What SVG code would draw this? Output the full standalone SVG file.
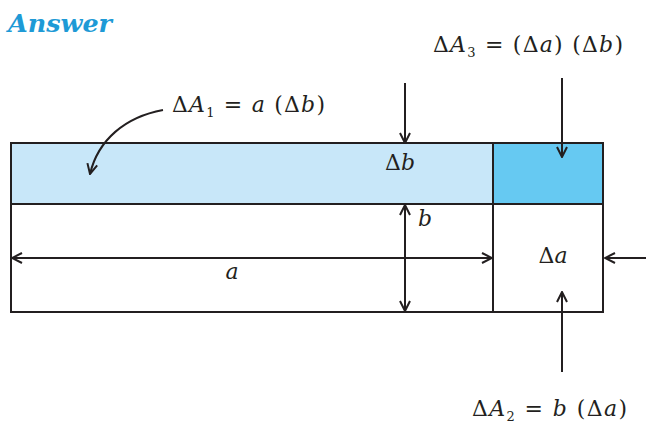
<svg xmlns="http://www.w3.org/2000/svg" width="646" height="426" viewBox="0 0 646 426">
<defs>
<style>
.t{font-family:"DejaVu Serif","Liberation Serif",serif;font-size:22px;fill:#231f20}
.i{font-style:italic}
.s{font-size:13px}
.ln{stroke:#231f20;stroke-width:2;fill:none}
.bx{stroke:#231f20;stroke-width:2}
</style>
<marker id="ah" viewBox="0 0 12 12" refX="11" refY="6" markerWidth="12" markerHeight="12" markerUnits="userSpaceOnUse" orient="auto-start-reverse">
<path d="M1,1 L11,6 L1,11" fill="none" stroke="#231f20" stroke-width="2"/>
</marker>
</defs>
<rect width="646" height="426" fill="#fff"/>
<text x="8" y="32" font-family="DejaVu Serif,serif" font-size="24" font-weight="bold" font-style="italic" fill="#1e9ad6" textLength="104" lengthAdjust="spacingAndGlyphs">Answer</text>
<g id="strip-a-db">
<rect class="bx" x="11" y="143" width="482" height="61" fill="#c8e7f9"/>
</g>
<g id="corner-da-db">
<rect class="bx" x="493" y="143" width="110" height="61" fill="#66c9f2"/>
</g>
<g id="main-ab">
<rect class="bx" x="11" y="204" width="482" height="108" fill="#fff"/>
</g>
<g id="strip-b-da">
<rect class="bx" x="493" y="204" width="110" height="108" fill="#fff"/>
</g>
<g id="connectors">
<path class="ln" d="M163,110 C125,117 98,140 90,174" marker-end="url(#ah)"/>
<line class="ln" x1="405" y1="83" x2="405" y2="143" marker-end="url(#ah)"/>
<line class="ln" x1="562" y1="78" x2="562" y2="157" marker-end="url(#ah)"/>
<line class="ln" x1="12" y1="258" x2="492" y2="258" marker-start="url(#ah)" marker-end="url(#ah)"/>
<line class="ln" x1="405" y1="205" x2="405" y2="311" marker-start="url(#ah)" marker-end="url(#ah)"/>
<line class="ln" x1="646" y1="258" x2="605" y2="258" marker-end="url(#ah)"/>
<line class="ln" x1="562" y1="372" x2="562" y2="292" marker-end="url(#ah)"/>
</g>
<g id="labels">
<text class="t" x="172" y="112" textLength="153">Δ<tspan class="i">A</tspan><tspan class="s" dy="5">1</tspan><tspan dy="-5"> = </tspan><tspan class="i">a</tspan> (Δ<tspan class="i">b</tspan>)</text>
<text class="t" x="433" y="52" textLength="190">Δ<tspan class="i">A</tspan><tspan class="s" dy="5">3</tspan><tspan dy="-5"> = (Δ</tspan><tspan class="i">a</tspan>) (Δ<tspan class="i">b</tspan>)</text>
<text class="t" x="472" y="416" textLength="155">Δ<tspan class="i">A</tspan><tspan class="s" dy="5">2</tspan><tspan dy="-5"> = </tspan><tspan class="i">b</tspan> (Δ<tspan class="i">a</tspan>)</text>
<text class="t" x="385" y="170" font-size="23">Δ<tspan class="i">b</tspan></text>
<text class="t i" x="418" y="226" font-size="23">b</text>
<text class="t i" x="232" y="279" text-anchor="middle" font-size="23">a</text>
<text class="t" x="553" y="263" text-anchor="middle" font-size="23">Δ<tspan class="i">a</tspan></text>
</g>
</svg>
